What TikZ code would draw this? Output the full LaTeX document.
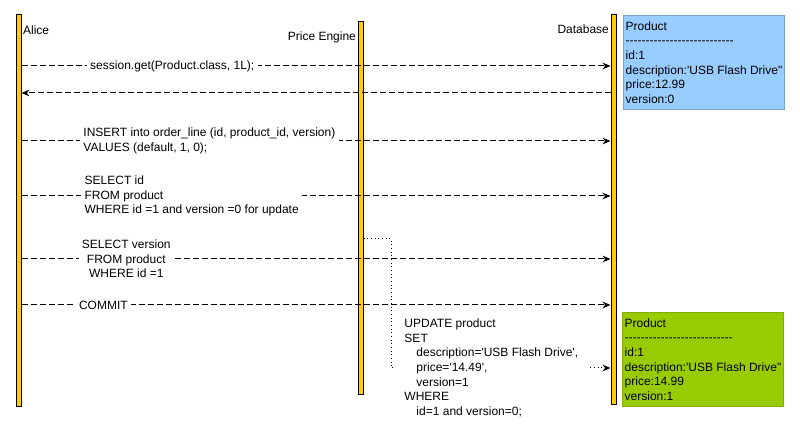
\documentclass[tikz,border=0pt]{standalone}
\usepackage{fontspec}
\setmainfont{Liberation Sans}[Ligatures=TeXOff]
\usetikzlibrary{arrows.meta}
\definecolor{lifeyellow}{HTML}{FFCC00}
\definecolor{oldblue}{HTML}{99CCFF}
\definecolor{newgreen}{HTML}{99CC00}
\newcommand{\hyphens}{---------------------------}
\begin{document}
\begin{tikzpicture}[x=0.75pt,y=-0.75pt,>={Stealth[length=6pt,width=5pt]},
  font=\fontsize{9}{11}\selectfont,
  lifeline/.style={draw=black,line width=0.75pt,fill=lifeyellow,minimum width=3.75pt,inner sep=0pt},
  msg/.style={->,line width=0.75pt,dash pattern=on 4.5pt off 2.25pt},
  upd/.style={->,line width=0.75pt,dotted},
  lbl/.style={fill=white,inner sep=2.5pt},
  rowbox/.style={anchor=north west,line width=0.75pt,minimum width=120.75pt,minimum height=70.5pt,align=left,inner xsep=1.5pt}]
\useasboundingbox (0,0) rectangle (800,438);
\node[lifeline,minimum height=293.25pt] (alice) at (18.5,210.5) {};
\node[lifeline,minimum height=279pt] (engine) at (360.5,208) {};
\node[lifeline,minimum height=291.75pt] (db) at (613.5,209.5) {};
\node[anchor=west,inner sep=1pt] (alicename) at (alice.east |- 0,30) {Alice};
\node[anchor=east,inner sep=1pt] (enginename) at (engine.west |- 0,37) {Price Engine};
\node[anchor=east,inner sep=1pt] (dbname) at (db.west |- 0,29) {Database};
\node[rowbox,draw=oldblue!80!black,fill=oldblue] (before) at (623,15)
  {Product\\ \hyphens\\ id:1\\ description:'USB Flash Drive"\\ price:12.99\\ version:0};
\node[rowbox,draw=newgreen!85!black,fill=newgreen] (after) at (622,312)
  {Product\\ \hyphens\\ id:1\\ description:'USB Flash Drive"\\ price:14.99\\ version:1};
\draw[msg] (alice.east |- 0,66) -- node[lbl,pos=0.256] {session.get(Product.class, 1L);} (db.west |- 0,66);
\draw[msg] (db.west |- 0,93) -- (alice.east |- 0,93);
\draw[msg] (alice.east |- 0,141) -- node[lbl,pos=0.319,align=left] {INSERT into order\_line (id, product\_id, version)\\ VALUES (default, 1, 0);} (db.west |- 0,141);
\draw[msg] (alice.east |- 0,196) -- node[lbl,pos=0.289,align=left] {SELECT id\\ FROM product\\ WHERE id =1 and version =0 for update} (db.west |- 0,196);
\draw[msg] (alice.east |- 0,259) -- node[lbl,pos=0.178,align=center] {SELECT version\\ FROM product\\ WHERE id =1} (db.west |- 0,259);
\draw[msg] (alice.east |- 0,305) -- node[lbl,pos=0.139] {COMMIT} (db.west |- 0,305);
\coordinate (bend) at (391,368);
\draw[upd] (engine.east |- 0,239) -| (bend) -- node[lbl,pos=0.457,align=left,inner xsep=8pt]
  {UPDATE product\\ SET\\ \quad description='USB Flash Drive',\\ \quad price='14.49',\\ \quad version=1\\ WHERE\\ \quad id=1 and version=0;} (db.west |- bend);
\end{tikzpicture}
\end{document}
